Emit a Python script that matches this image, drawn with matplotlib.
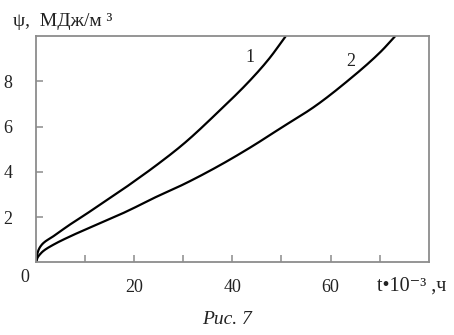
import matplotlib
matplotlib.use("Agg")
import matplotlib.pyplot as plt
import numpy as np
from matplotlib.ticker import FixedLocator

# Data (t*10^-3, h ; psi, MJ/m^3)
t1 = [0, 0.3, 0.68, 1.5, 3.4, 6.8, 10.2, 13.6, 17.0, 20.4, 24.1, 30.1, 36.9, 43.7, 47.5, 50.9]
psi1 = [0, 0.4, 0.62, 0.85, 1.13, 1.65, 2.13, 2.63, 3.12, 3.64, 4.22, 5.24, 6.6, 8.06, 9.0, 10.0]
t2 = [0, 0.3, 0.68, 1.5, 3.4, 6.8, 10.2, 13.6, 17.0, 20.4, 24.1, 30.1, 36.9, 43.7, 50.0, 56.6, 63.4, 70.2, 73.2]
psi2 = [0, 0.2, 0.32, 0.5, 0.76, 1.13, 1.46, 1.78, 2.1, 2.45, 2.85, 3.45, 4.22, 5.08, 5.95, 6.86, 8.0, 9.3, 10.0]

xticks_major = [20, 40, 60]
xticks_minor = [10, 30, 50, 70]
yticks = [2, 4, 6, 8]

plt.rcParams['font.family'] = ['Liberation Serif', 'DejaVu Serif']

fig = plt.figure(figsize=(4.54, 3.35), dpi=100)
ax = fig.add_axes([36/454, 1-262.3/335, (428.7-36)/454, (262.3-36)/335])

def smooth(x, y):
    x = np.asarray(x, float); y = np.asarray(y, float)
    xs = np.linspace(x[0], x[-1], 500)
    h = np.diff(x); d = np.diff(y) / h
    m = np.zeros_like(y)
    m[0] = d[0]; m[-1] = d[-1]
    for i in range(1, len(y) - 1):
        if d[i-1] * d[i] > 0:
            w1 = 2*h[i] + h[i-1]; w2 = h[i] + 2*h[i-1]
            m[i] = (w1 + w2) / (w1/d[i-1] + w2/d[i])
    idx = np.clip(np.searchsorted(x, xs) - 1, 0, len(x) - 2)
    tt = (xs - x[idx]) / h[idx]
    h00 = 2*tt**3 - 3*tt**2 + 1; h10 = tt**3 - 2*tt**2 + tt
    h01 = -2*tt**3 + 3*tt**2; h11 = tt**3 - tt**2
    ys = h00*y[idx] + h10*h[idx]*m[idx] + h01*y[idx+1] + h11*h[idx]*m[idx+1]
    return xs, ys

for t, p in [(t1, psi1), (t2, psi2)]:
    xs, ys = smooth(t, p)
    ax.plot(xs, ys, color='black', lw=1.6, solid_capstyle='butt')

ax.set_xlim(0, 80)
ax.set_ylim(0, 10)
for s in ax.spines.values():
    s.set_color('#8c8c8c')
    s.set_linewidth(1.3)

ax.xaxis.set_major_locator(FixedLocator(xticks_major))
ax.xaxis.set_minor_locator(FixedLocator(xticks_minor))
ax.yaxis.set_major_locator(FixedLocator(yticks))
ax.tick_params(axis='both', which='both', direction='in', length=5, width=1.1,
               color='#8c8c8c', labelsize=13, labelcolor='#222222')
ax.tick_params(axis='x', which='major', pad=12)
ax.tick_params(axis='y', which='major', pad=17)

tc = '#222222'
fig.text(25/454, 1-277/335, '0', fontsize=13, ha='center', va='center', color=tc)
fig.text(13/454, 1-22/335, 'ψ,  МДж/м ³', fontsize=14, ha='left', va='center', color=tc)
fig.text(377/454, 1-286/335, 't•10⁻³ ,ч', fontsize=14.5, ha='left', va='center', color=tc)
fig.text(227/454, 1-320/335, 'Рис. 7', fontsize=14, ha='center', va='center',
         style='italic', color=tc)
fig.text(249.5/454, 1-57/335, '1', fontsize=13, ha='center', va='center', color=tc)
fig.text(351/454, 1-61/335, '2', fontsize=13, ha='center', va='center', color=tc)

fig.savefig('out.png', dpi=100)
